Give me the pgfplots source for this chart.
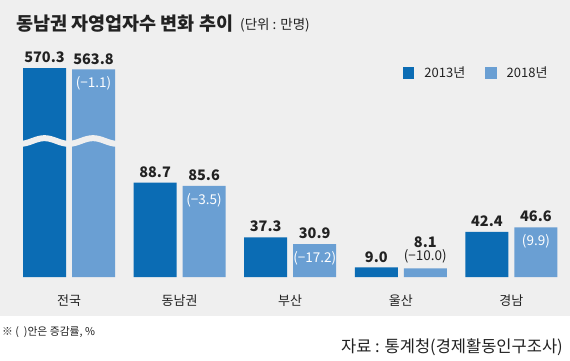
\documentclass[border=0pt]{standalone}
\usepackage{pgfplots}
\pgfplotsset{compat=1.18}
\usepackage{fontspec}
\setmainfont{Noto Sans CJK KR}
\definecolor{darkb}{HTML}{0B6CB4}
\definecolor{lightb}{HTML}{6A9FD3}
\definecolor{bg}{HTML}{EFEFEF}
\definecolor{txt}{HTML}{222222}
\begin{document}
\begin{tikzpicture}[x=1pt,y=1pt]
\fill[white] (0,0) rectangle (570,360);
\fill[bg] (0,44) rectangle (570,360);
\node[anchor=west, font=\bfseries\fontsize{18.5}{20}\selectfont, text=txt, inner sep=0] at (16,336) {동남권 자영업자수 변화 추이};
\node[anchor=west, font=\fontsize{13.5}{15}\selectfont, text=txt, inner sep=0] at (240,335) {(단위 : 만명)};
\begin{axis}[
  at={(13.7pt,83pt)}, anchor=south west,
  scale only axis,
  x=110.6pt, y=1.065pt,
  xmin=-0.5, xmax=4.5, ymin=0,
  enlargelimits=false,
  clip=false,
  y coord trafo/.code={\pgfmathparse{min(#1,100)+max(#1-100,0)*0.2046}},
  y coord inv trafo/.code={\pgfmathparse{min(#1,100)+max(#1-100,0)/0.2046}},
  axis line style={draw=none},
  tick style={draw=none},
  ytick=\empty,
  xtick={0,1,2,3,4},
  xticklabels={전국,동남권,부산,울산,경남},
  xticklabel style={font=\fontsize{13}{14}\selectfont, text=txt, yshift=-10pt},
  ybar, bar width=43pt,
  point meta=explicit symbolic,
  nodes near coords,
  every node near coord/.append style={font=\bfseries\fontsize{14.5}{15}\selectfont, text=txt, inner sep=2pt, align=center, yshift=3pt},
  legend columns=2,
  legend style={draw=none, fill=none, at={(0.698,0.976)}, anchor=west,
    font=\fontsize{13}{14}\selectfont, text=txt,
    /tikz/every odd column/.append style={column sep=8pt},
    /tikz/every even column/.append style={column sep=18pt}},
  legend image code/.code={\fill[#1] (0pt,-6pt) rectangle (11.5pt,6pt);},
]
\addplot[fill=darkb, draw=none, bar shift=-24.5pt] coordinates {
  (0,570.3) [570.3]
  (1,88.7) [88.7]
  (2,37.3) [37.3]
  (3,9.0) [9.0]
  (4,42.4) [42.4]
};
\addlegendentry{2013년}
\addplot[fill=lightb, draw=none, bar shift=24.5pt] coordinates {
  (0,563.8) [563.8]
  (1,85.6) [85.6]
  (2,30.9) [30.9]
  (3,8.1) [{8.1\\[-2pt]{\mdseries\fontsize{13.5}{14}\selectfont (−10.0)}}]
  (4,46.6) [46.6]
};
\addlegendentry{2018년}
\addplot[draw=none, fill=none, bar shift=24.5pt, forget plot,
  every node near coord/.append style={anchor=north, yshift=-8pt, text=white, font=\mdseries\fontsize{13.5}{14}\selectfont}] coordinates {
  (0,563.8) [(−1.1)]
  (1,85.6) [(−3.5)]
  (2,30.9) [(−17.2)]
  (4,46.6) [(9.9)]
};
\end{axis}
\draw[bg, line width=6pt] plot[domain=19:119, samples=80, smooth] (\x, {219+2.8*cos((\x-44.5)/48.5*360)});
\node[anchor=west, font=\fontsize{10.8}{12}\selectfont, text=txt, inner sep=0] at (2,28) {※ ( \ )안은 증감률, \%};
\node[anchor=east, font=\fontsize{16.5}{18}\selectfont, text=txt, inner sep=0] at (563,13) {자료 : 통계청(경제활동인구조사)};
\end{tikzpicture}
\end{document}
